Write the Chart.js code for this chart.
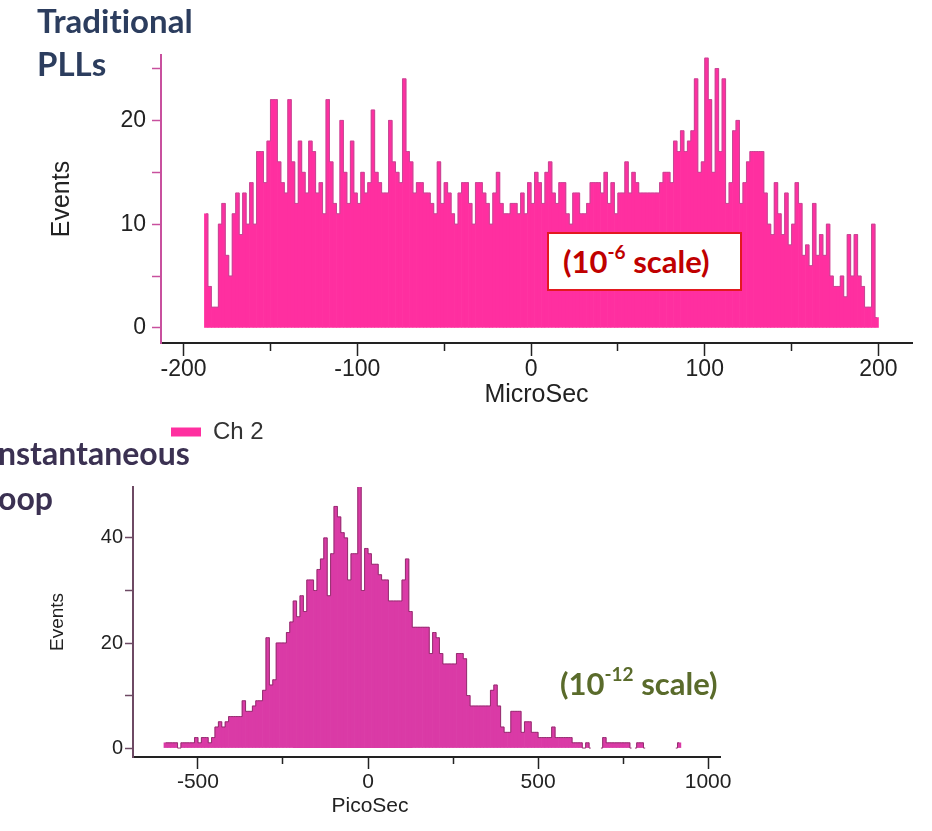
<!DOCTYPE html>
<html><head><meta charset="utf-8">
<script src="https://cdn.jsdelivr.net/npm/chart.js@4.4.1/dist/chart.umd.min.js"></script>
<style>
html,body{margin:0;padding:0;background:#fff;}
body{width:932px;height:831px;position:relative;overflow:hidden;}
canvas{position:absolute;left:0;}
.ttl{position:absolute;font-family:Lato,'Open Sans',sans-serif;font-weight:700;font-size:32px;white-space:nowrap;font-variant-ligatures:none;}
.note{position:absolute;font-family:Lato,'Open Sans',sans-serif;font-weight:700;font-size:31px;white-space:nowrap;}
.note sup{font-size:19px;line-height:0;vertical-align:baseline;position:relative;top:-14px;}
#a1{left:547px;top:232px;width:195px;height:59px;box-sizing:border-box;border:2px solid #e3191f;background:#fff;color:#c00000;line-height:55px;padding-left:14px;}
#a2{left:560px;top:663px;color:#5a6b2b;line-height:40px;}
#px{position:absolute;left:370px;top:793px;transform:translateX(-50%);font-family:'Liberation Sans',Arial,sans-serif;font-size:21px;line-height:24px;color:#222;white-space:nowrap;}
</style></head><body>
<canvas id="c1" width="932" height="454" style="top:0px"></canvas>
<canvas id="c2" width="932" height="381" style="top:450px"></canvas>
<div class="ttl" style="left:37px;top:-1px;font-size:33px;line-height:43px;color:#2c3d5e">Traditional<br>PLLs</div>
<div class="ttl" style="left:-2px;top:430px;line-height:45px;color:#3b3152">nstantaneous<br>oop</div>
<div class="note" id="a1">(10<sup>-6</sup> scale)</div>
<div class="note" id="a2">(10<sup>-12</sup> scale)</div>
<div id="px">PicoSec</div>
<script>
// ---- data ----
const seriesName = 'Ch 2';
const microBinStart = -188;   // MicroSec, left edge of first bin
const microBinWidth = 2;
const microEvents = [
 11,4,2,2,10,12,7,5,11,13,
 9,13,10,14,10,17,17,14,18,22,
 22,16,14,13,22,16,12,18,15,13,
 18,17,13,14,11,22,16,12,11,20,
 15,12,18,13,12,15,13,14,21,15,
 14,13,13,20,16,15,14,24,17,16,
 13,14,14,13,
 13,12,11,16,12,14,
 13,11,10,13,14,14,12,10,14,14,
 13,12,10,13,15,12,11,11,12,12,
 11,13,11,14,12,15,14,12,15,16,
 13,12,14,14,11,10,13,13,11,11,
 12,14,14,14,13,15,12,14,11,13,
 13,16,13,15,14,13,13,
 13,13,
 13,13,14,15,15,14,18,17,19,17,
 18,19,24,15,16,26,22,15,25,17,
 24,12,14,19,20,12,14,16,17,17,
 17,17,13,10,9,14,11,9,13,8,
 10,14,12,7,8,6,12,7,9,7,
 10,5,4,4,5,3,9,5,9,5,
 4,2,2,10,1
];
const microTickMarks = [-200, -150, -100, -50, 0, 50, 100, 150, 200];
const microTicks = [-200, -100, 0, 100, 200];          // labelled
const microEventMarks = [0, 5, 10, 15, 20, 25];
const microEventTicks = [0, 10, 20];                     // labelled

const picoBinStart = -600;    // PicoSec, left edge of first bin
const picoBinWidth = 10;
const picoEvents = [
 1,1,1,1,0,1,1,1,1,2,
 1,2,2,1,2,4,5,4,5,6,
 6,6,6,9,7,7,8,9,9,11,
 21,12,13,20,20,20,22,24,28,25,
 29,26,32,32,30,34,36,40,29,37,
 46,44,41,40,32,37,37,50,30,38,
 37,35,35,33,32,32,28,28,28,28,
 32,36,26,23,23,23,23,23,18,22,
 21,18,16,16,16,16,18,18,17,10,
 8,8,8,8,8,8,11,12,8,4,
 3,3,7,7,7,3,5,5,3,3,
 2,2,2,2,4,2,2,2,2,2,
 1,1,1,0,1,0,0,0,0,2,
 1,1,1,1,1,1,1,0,0,1,
 1,0,0,0,0,0,0,0,0,0,
 0,1
];
const picoTickMarks = [-500, -250, 0, 250, 500, 750, 1000];
const picoTicks = [-500, 0, 500, 1000];                 // labelled
const picoEventMarks = [0, 10, 20, 30, 40];
const picoEventTicks = [0, 20, 40];                      // labelled

// ---- helpers ----
const FONT = "'Liberation Sans', Arial, sans-serif";
function toBars(start, width, vals) {
  return vals.map((v, i) => ({ x: start + width * (i + 0.5), y: v === 0 ? null : v }));
}
function toEdge(start, width, vals) {
  return vals.map((v, i) => ({ x: start + width * (i + 0.5), y: v }));
}
const setTicks = marks => s => { s.ticks = marks.map(v => ({ value: v })); };
const tickVal = c => (c && c.tick) ? c.tick.value : null;
const hideZeroRun = c => (c.p0.parsed.y === 0 && c.p1.parsed.y === 0) ? 'rgba(0,0,0,0)' : undefined;

// ---- top chart ----
new Chart(document.getElementById('c1'), {
  type: 'bar',
  data: { datasets: [
    { label: seriesName, data: toBars(microBinStart, microBinWidth, microEvents), backgroundColor: '#ff2fa0',
      borderWidth: 0, barPercentage: 1, categoryPercentage: 1, order: 1 },
    { type: 'line', label: 'edge', data: toEdge(microBinStart, microBinWidth, microEvents), borderColor: '#c44a94',
      borderWidth: 1, pointRadius: 0, stepped: 'middle', fill: false, order: 0, segment: { borderColor: hideZeroRun } }
  ]},
  options: {
    responsive: false, animation: false, devicePixelRatio: 1, events: [],
    layout: { padding: { top: 55, right: 20, bottom: 0, left: 0 } },
    plugins: {
      tooltip: { enabled: false },
      legend: { position: 'bottom', align: 'start', fullSize: false,
        labels: { filter: it => it.datasetIndex === 0, boxWidth: 30, boxHeight: 9, padding: 10,
          color: '#333', font: { family: FONT, size: 24 } } }
    },
    scales: {
      x: { type: 'linear', min: -213, max: 219.3, offset: false,
        afterBuildTicks: setTicks(microTickMarks),
        afterFit: s => { s.height = 67; },
        grid: { offset: false, drawOnChartArea: false, tickLength: 13, tickColor: '#222', tickWidth: 1.5,
          tickBorderDash: c => microTicks.includes(tickVal(c)) ? [] : [7, 100] },
        border: { display: true, color: '#222', width: 2 },
        ticks: { autoSkip: false, maxRotation: 0, padding: 0,
          color: '#222', font: { family: FONT, size: 23 },
          callback: v => microTicks.includes(v) ? String(v) : '' },
        title: { display: true, text: 'MicroSec', color: '#222', font: { family: FONT, size: 25 },
          padding: { top: 0, bottom: 0 } } },
      y: { min: -1.45, max: 26.3,
        afterBuildTicks: setTicks(microEventMarks),
        afterFit: s => { s.width = 161; },
        grid: { drawOnChartArea: false, tickLength: 9, tickColor: '#c8509e', tickWidth: 1.5 },
        border: { display: true, color: '#c8509e', width: 2 },
        ticks: { autoSkip: false, padding: 6, color: '#222', font: { family: FONT, size: 23 },
          callback: v => microEventTicks.includes(v) ? String(v) : '' },
        title: { display: true, text: 'Events', color: '#222', font: { family: FONT, size: 25 },
          padding: { top: 47, bottom: 0 } } }
    }
  }
});

// ---- bottom chart ----
new Chart(document.getElementById('c2'), {
  type: 'bar',
  data: { datasets: [
    { label: seriesName, data: toBars(picoBinStart, picoBinWidth, picoEvents), backgroundColor: '#da3aa6',
      borderWidth: 0, barPercentage: 1, categoryPercentage: 1, order: 1 },
    { type: 'line', label: 'edge', data: toEdge(picoBinStart, picoBinWidth, picoEvents), borderColor: '#93306f',
      borderWidth: 1, pointRadius: 0, stepped: 'middle', fill: false, order: 0, segment: { borderColor: hideZeroRun } }
  ]},
  options: {
    responsive: false, animation: false, devicePixelRatio: 1, events: [],
    layout: { padding: { top: 37, right: 212, bottom: 0, left: 0 } },
    plugins: { tooltip: { enabled: false }, legend: { display: false } },
    scales: {
      x: { type: 'linear', min: -691, max: 1035, offset: false,
        afterBuildTicks: setTicks(picoTickMarks),
        afterFit: s => { s.height = 74; },
        grid: { offset: false, drawOnChartArea: false, tickLength: 12, tickColor: '#222', tickWidth: 1.5,
          tickBorderDash: c => picoTicks.includes(tickVal(c)) ? [] : [6, 100] },
        border: { display: true, color: '#222', width: 2 },
        ticks: { autoSkip: false, maxRotation: 0, padding: 1,
          color: '#222', font: { family: FONT, size: 21 },
          callback: v => picoTicks.includes(v) ? String(v) : '' },
        title: { display: false } },
      y: { min: -1.7, max: 49.7,
        afterBuildTicks: setTicks(picoEventMarks),
        afterFit: s => { s.width = 133; },
        grid: { drawOnChartArea: false, tickLength: 8, tickColor: '#6e4a64', tickWidth: 1.5 },
        border: { display: true, color: '#6e4a64', width: 2 },
        ticks: { autoSkip: false, padding: 2, color: '#222', font: { family: FONT, size: 20 },
          callback: v => picoEventTicks.includes(v) ? String(v) : '' },
        title: { display: true, text: 'Events', color: '#222', font: { family: FONT, size: 19 },
          padding: { top: 46, bottom: 0 } } }
    }
  }
});
</script>
</body></html>
